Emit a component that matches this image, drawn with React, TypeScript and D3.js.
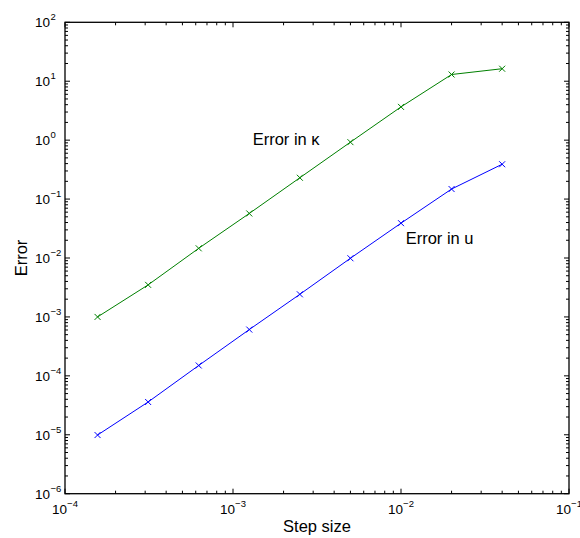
import React from "react";
import * as d3 from "d3";

const stepSizes = [0.00015625, 0.0003125, 0.000625, 0.00125, 0.0025, 0.005, 0.01, 0.02, 0.04];
const errorU = [9.9e-6, 3.6e-5, 1.5e-4, 6.1e-4, 2.42e-3, 9.9e-3, 3.9e-2, 0.148, 0.39];
const errorKappa = [1.0e-3, 3.5e-3, 1.46e-2, 5.7e-2, 0.23, 0.925, 3.67, 13.0, 16.3];
const xTickExps = [-4, -3, -2, -1];
const yTickExps = [-6, -5, -4, -3, -2, -1, 0, 1, 2];
const xLabel = "Step size";
const yLabel = "Error";
const labelKappa = "Error in κ";
const labelU = "Error in u";

const W = 580, H = 538;
const L = 65, R = 569, T = 22.3, B = 493.7;
const FONT = "'Liberation Sans', Arial, Helvetica, sans-serif";

const fmtExp = (e: number) => (e < 0 ? "\u2212" + Math.abs(e) : String(e));

export default function App() {
  const x = d3.scaleLog().domain([1e-4, 1e-1]).range([L, R]);
  const y = d3.scaleLog().domain([1e-6, 1e2]).range([B, T]);

  const line = (vals: number[]) =>
    d3.line<number>().x((_, i) => x(stepSizes[i])).y((v) => y(v))(vals) || "";

  const minorX: number[] = [];
  for (let e = -4; e < -1; e++) for (let m = 2; m <= 9; m++) minorX.push(m * Math.pow(10, e));
  const minorY: number[] = [];
  for (let e = -6; e < 2; e++) for (let m = 2; m <= 9; m++) minorY.push(m * Math.pow(10, e));

  const marker = (cx: number, cy: number, color: string, k: string) => (
    <path key={k} d={`M${cx - 3},${cy - 3}L${cx + 3},${cy + 3}M${cx - 3},${cy + 3}L${cx + 3},${cy - 3}`} stroke={color} strokeWidth={1} fill="none" />
  );

  const series = [
    { vals: errorKappa, color: "#008000" },
    { vals: errorU, color: "#0000ff" },
  ];

  return (
    <svg width={W} height={H} style={{ position: "absolute", left: 0, top: 0, background: "#fff" }} fontFamily={FONT}>
      <rect x={0} y={0} width={W} height={H} fill="#fff" />
      <g stroke="#000" strokeWidth={1}>
        {xTickExps.map((e) => {
          const px = x(Math.pow(10, e));
          return (
            <g key={"xt" + e}>
              <line x1={px} x2={px} y1={B} y2={B - 5} />
              <line x1={px} x2={px} y1={T} y2={T + 5} />
            </g>
          );
        })}
        {minorX.map((v, i) => {
          const px = x(v);
          return (
            <g key={"xm" + i}>
              <line x1={px} x2={px} y1={B} y2={B - 3} />
              <line x1={px} x2={px} y1={T} y2={T + 3} />
            </g>
          );
        })}
        {yTickExps.map((e) => {
          const py = y(Math.pow(10, e));
          return (
            <g key={"yt" + e}>
              <line x1={L} x2={L + 5} y1={py} y2={py} />
              <line x1={R} x2={R - 5} y1={py} y2={py} />
            </g>
          );
        })}
        {minorY.map((v, i) => {
          const py = y(v);
          return (
            <g key={"ym" + i}>
              <line x1={L} x2={L + 3} y1={py} y2={py} />
              <line x1={R} x2={R - 3} y1={py} y2={py} />
            </g>
          );
        })}
      </g>
      <rect x={L} y={T} width={R - L} height={B - T} fill="none" stroke="#000" strokeWidth={1.3} />
      {series.map((s, si) => (
        <g key={"s" + si}>
          <path d={line(s.vals)} fill="none" stroke={s.color} strokeWidth={1} />
          {s.vals.map((v, i) => marker(x(stepSizes[i]), y(v), s.color, `m${si}-${i}`))}
        </g>
      ))}
      {xTickExps.map((e) => (
        <text key={"xl" + e} x={x(Math.pow(10, e))} y={514} textAnchor="middle" fontSize={13.5} fill="#000">
          <tspan>10</tspan>
          <tspan fontSize={9.5} dy={-7}>{fmtExp(e)}</tspan>
        </text>
      ))}
      {yTickExps.map((e) => {
        const py = y(Math.pow(10, e));
        return (
          <g key={"yl" + e}>
            <text x={50} y={py + 5} textAnchor="end" fontSize={13.5} fill="#000">10</text>
            <text x={50.5} y={py - 2} textAnchor="start" fontSize={9.5} fill="#000">{fmtExp(e)}</text>
          </g>
        );
      })}
      <text x={(L + R) / 2} y={532} textAnchor="middle" fontSize={16.5} fill="#000">{xLabel}</text>
      <text transform={`translate(27,${(T + B) / 2}) rotate(-90)`} textAnchor="middle" fontSize={16.5} fill="#000">{yLabel}</text>
      <text x={252.7} y={145} fontSize={16.5} fill="#000">{labelKappa}</text>
      <text x={405.7} y={243.5} fontSize={16.5} fill="#000">{labelU}</text>
    </svg>
  );
}
